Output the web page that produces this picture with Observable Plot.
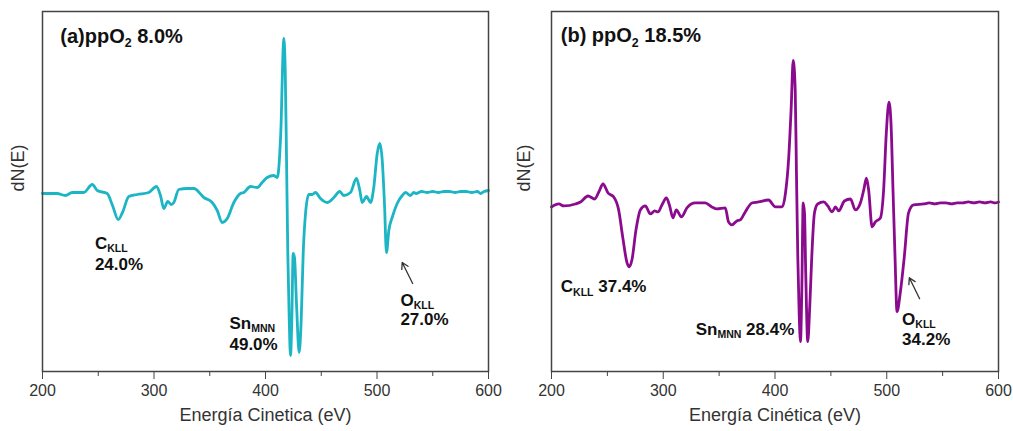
<!DOCTYPE html>
<html>
<head>
<meta charset="utf-8">
<script src="https://cdn.jsdelivr.net/npm/d3@7"></script>
<script src="https://cdn.jsdelivr.net/npm/@observablehq/plot@0.6"></script>
<style>
  body { margin: 0; background: #fff; }
  #wrap { display: flex; width: 1013px; height: 431px; }
  svg { display: block; }
</style>
</head>
<body>
<div id="wrap"></div>
<script>
// ---------- Panel (a) ppO2 8.0% ----------
const energyA = [200,213,220.6,226.6,237,244.6,249.1,258,262.8,267.9,271.7,277.4,284.9,295.3,302.2,305.8,308.8,312.4,315.4,317.8,322.2,329.8,335.7,344.7,352.2,356.7,361.2,365.7,371.6,377.6,380.5,386.5,392.6,397,401.5,407.4,410.5,412.8,414.1,415.2,416.4,417.7,418.8,420,421.3,422.4,423.6,424.8,426,427.8,430.2,432,433.8,435.9,438.8,441.9,444.8,449.3,455.3,461.3,466.6,470.2,476.2,481.6,484.6,486.7,490.6,494.2,497.1,500.2,502.5,504.7,506.7,508.5,510.6,513.6,518.1,522.6,525.6,530,533,535,540,545,550,555,560,565,570,575,580,585,590,593,596,600];
const signalA = [0,0,-2,1,1,9,3,0,-12,-26,-19,-3,-1,1,7,-2,-15,-8,-11,-9,4,5,5,-4,-9,-17,-29,-25,-9,0,1,7,6,11,16,18,16,40,73,123,155,123,40,-60,-127,-162,-127,-60,-64,-110,-159,-127,-60,-20,-1,-1,1,-5,-9,-4,2,-2,1,15,3,-9,-3,-9,6,40,50,33,-10,-59,-37,-24,-10,-2,1,-2,1,0,2,1,2,1,2,2,1,2,2,1,2,0,2,3];

// ---------- Panel (b) ppO2 18.5% ----------
const energyB = [200,206.5,211,221.4,225.9,232.7,238.7,242.3,246.1,250.6,255.7,260.1,263.7,267.6,269.7,272,275.6,279.5,284,288.5,292.3,295.3,298.8,302.8,305.5,308.7,311.7,316.2,321.2,328.7,337.6,343.5,348,355.5,358.4,361.4,365.9,368.9,373.4,379.3,385.3,394.2,400.4,406.4,409.4,412.3,414.5,416.3,418.1,419.2,420.4,421.6,422.8,424,425.2,426.4,427.5,429.3,431.1,432.9,435.3,438.2,443.6,447.2,451.1,454.1,457,462.1,467.5,471.9,476.4,479.4,481.8,483.8,486.9,489.8,494.3,497.2,499.6,502,503.8,505.6,507.4,509.2,512.1,515.7,519.5,524,533,538,543,548,553,558,563,568,573,578,583,588,593,597,600];
const signalB = [-3,0,-2,0,2,8,5,12,20,11,7,-6,-33,-59,-63,-56,-26,-6,-2,-10,-7,-8,-1,6,-1,-14,-6,-13,-4,1,1,-3,-5,-4,-18,-21,-17,-16,-8,1,2,4,-3,-3,11,47,97,144,114,31,-53,-109,-138,-86,1,-9,-69,-138,-103,-53,-9,0,2,-2,-8,-3,-7,3,5,-6,1,14,26,14,-23,-18,-14,14,71,102,81,14,-53,-108,-89,-53,-9,-1,0,1,0,1,1,0,1,1,2,1,2,1,2,1,2];

// ---------- axis ticks & texts ----------
const majorTicks = [200, 300, 400, 500, 600];
const minorTicks = [250, 350, 450, 550];
const yLabel = "dN(E)";
const xLabelA = "Energía Cinetica (eV)";
const xLabelB = "Energía Cinética (eV)";

// annotation texts (x in eV, y = baseline in signal units)
const titleA = [{x: 216, y: 151, text: "(a)ppO_{2} 8.0%"}];
const labelsA = [
  {x: 247, y: -55, text: "C_{KLL}"},
  {x: 247, y: -76, text: "24.0%"},
  {x: 367.7, y: -135, text: "Sn_{MNN}"},
  {x: 367.7, y: -156, text: "49.0%"},
  {x: 521, y: -112, text: "O_{KLL}"},
  {x: 521, y: -131, text: "27.0%"}
];
const arrowsA = [{x1: 532, y1: -90, x2: 522.6, y2: -69}];

const titleB = [{x: 208.3, y: 162, text: "(b) ppO_{2} 18.5%"}];
const labelsB = [
  {x: 208.3, y: -88, text: "C_{KLL} 37.4%"},
  {x: 329, y: -131, text: "Sn_{MNN} 28.4%"},
  {x: 513.7, y: -121, text: "O_{KLL}"},
  {x: 513.7, y: -141, text: "34.2%"}
];
const arrowsB = [{x1: 529.4, y1: -95, x2: 520.2, y2: -74}];

const tealColor = "#1bb5c4";
const purpleColor = "#8b0b8f";

function applySubs(svg) {
  const ns = "http://www.w3.org/2000/svg";
  svg.querySelectorAll("text").forEach(t => {
    const targets = t.querySelector("tspan") ? [...t.querySelectorAll("tspan")] : [t];
    targets.forEach(el => {
      const s = el.textContent;
      const m = s.match(/^(.*?)_\{(.*?)\}(.*)$/);
      if (!m) return;
      el.textContent = "";
      const a = document.createElementNS(ns, "tspan"); a.textContent = m[1];
      const b = document.createElementNS(ns, "tspan"); b.textContent = m[2];
      b.setAttribute("style", "font-size:0.62em"); b.setAttribute("dy", "0.36em");
      const c = document.createElementNS(ns, "tspan"); c.textContent = m[3];
      c.setAttribute("dy", (-0.36 * 0.62).toFixed(3) + "em");
      el.append(a, b, c);
    });
  });
}

function panel({energy, signal, color, width, marginLeft, marginRight, yDomain, title, labels, arrows, xLabel}) {
  const data = energy.map((e, i) => ({e, s: signal[i]}));
  const svg = Plot.plot({
    width, height: 431,
    marginLeft, marginRight, marginTop: 11, marginBottom: 60,
    style: {fontFamily: "'Liberation Sans', Arial, sans-serif", color: "#333", background: "#fff"},
    x: {domain: [200, 600], label: null},
    y: {domain: yDomain, axis: null, label: null},
    marks: [
      Plot.axisX({ticks: majorTicks, tickSize: 8, tickPadding: 5, fontSize: 16, stroke: "#444", fill: "#333", label: null}),
      Plot.axisX({ticks: minorTicks, tickSize: 5, tickFormat: () => "", stroke: "#444", label: null}),
      Plot.line(data, {x: "e", y: "s", stroke: color, strokeWidth: 2.8, curve: "monotone-x"}),
      Plot.frame({stroke: "#444", strokeWidth: 1.5}),
      Plot.text(title, {x: "x", y: "y", text: "text", textAnchor: "start", lineAnchor: "bottom", fontSize: 20, fontWeight: "bold", fill: "#111"}),
      Plot.text(labels, {x: "x", y: "y", text: "text", textAnchor: "start", lineAnchor: "bottom", fontSize: 17, fontWeight: "bold", fill: "#111"}),
      Plot.arrow(arrows, {x1: "x1", y1: "y1", x2: "x2", y2: "y2", stroke: "#333", strokeWidth: 1.3, headLength: 8}),
      Plot.text([yLabel], {frameAnchor: "left", dx: -(marginLeft - 18), rotate: -90, fontSize: 18, fill: "#333"}),
      Plot.text([xLabel], {frameAnchor: "bottom", dy: 49, lineAnchor: "bottom", fontSize: 18, fill: "#333"})
    ]
  });
  applySubs(svg);
  return svg;
}

const wrap = document.getElementById("wrap");
wrap.append(panel({
  energy: energyA, signal: signalA, color: tealColor, width: 506,
  marginLeft: 42, marginRight: 18, yDomain: [-178, 182],
  title: titleA, labels: labelsA, arrows: arrowsA, xLabel: xLabelA
}));
wrap.append(panel({
  energy: energyB, signal: signalB, color: purpleColor, width: 507,
  marginLeft: 45, marginRight: 15, yDomain: [-168, 193],
  title: titleB, labels: labelsB, arrows: arrowsB, xLabel: xLabelB
}));
</script>
</body>
</html>
